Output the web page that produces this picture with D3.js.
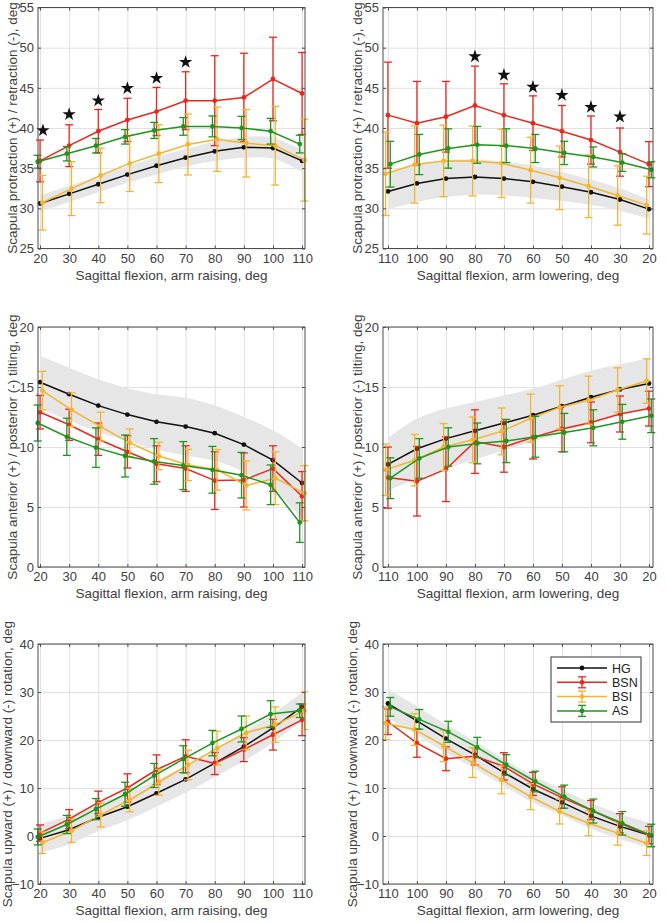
<!DOCTYPE html>
<html>
<head>
<meta charset="utf-8">
<script src="https://cdn.jsdelivr.net/npm/d3@7"></script>
<style>
  body { margin: 0; background: #fff; }
  svg { display: block; font-family: "Liberation Sans", Arial, sans-serif; }
</style>
</head>
<body>
<svg id="chart" width="666" height="922"></svg>
<script>
// x categories (deg of sagittal flexion)
const xRaise = [20, 30, 40, 50, 60, 70, 80, 90, 100, 110];
const xLower = [110, 100, 90, 80, 70, 60, 50, 40, 30, 20];
const groups = ["HG", "BSN", "BSI", "AS"];

// Row 1: protraction / retraction
const hg1 = [30.6, 31.8, 33.0, 34.2, 35.3, 36.3, 37.1, 37.6, 37.5, 35.9];
const hgBand1 = [1.0, 1.0, 1.0, 1.0, 1.1, 1.1, 1.2, 1.3, 1.3, 1.35];
const bsn1 = [35.9, 37.8, 39.6, 41.0, 42.05, 43.4, 43.4, 43.8, 46.1, 44.3];
const bsnSd1 = [2.6, 2.6, 2.7, 2.7, 3.0, 3.6, 5.6, 5.5, 5.2, 5.1];
const bsi1 = [30.7, 32.45, 34.1, 35.6, 36.8, 37.95, 38.6, 38.1, 37.8, 36.0];
const bsiSd1 = [3.4, 3.35, 3.4, 3.5, 3.6, 3.8, 4.0, 4.2, 4.9, 5.1];
const as1 = [35.8, 36.8, 37.8, 38.9, 39.7, 40.2, 40.2, 40.0, 39.6, 38.0];
const asSd1 = [0.8, 0.9, 0.9, 0.9, 1.0, 1.1, 1.3, 1.45, 1.6, 1.1];
const starX1 = [21, 30, 40, 50, 60, 70];
const starY1 = [39.7, 41.7, 43.4, 44.95, 46.2, 48.2];

const hg2 = [32.1, 33.1, 33.7, 33.9, 33.7, 33.3, 32.7, 32.0, 31.1, 29.9];
const hgBand2 = [2.2, 2.3, 2.3, 2.2, 2.1, 2.0, 1.8, 1.6, 1.4, 1.2];
const bsn2 = [41.6, 40.6, 41.4, 42.8, 41.6, 40.6, 39.6, 38.5, 37.0, 35.5];
const bsnSd2 = [6.6, 5.2, 4.4, 4.9, 3.9, 3.4, 3.2, 3.0, 3.0, 2.8];
const bsi2 = [34.3, 35.45, 35.9, 35.9, 35.6, 34.75, 33.8, 32.75, 31.6, 30.4];
const bsiSd2 = [5.2, 4.8, 4.45, 4.35, 4.25, 4.1, 3.95, 3.9, 3.7, 3.6];
const as2 = [35.5, 36.7, 37.45, 37.9, 37.8, 37.45, 36.9, 36.4, 35.7, 34.8];
const asSd2 = [2.85, 2.5, 2.45, 2.3, 2.1, 1.75, 1.45, 1.25, 1.1, 1.0];
const starX2 = [80, 70, 60, 50, 40, 30];
const starY2 = [48.9, 46.6, 45.1, 44.1, 42.6, 41.4];

// Row 2: anterior / posterior tilting
const hg3 = [15.4, 14.4, 13.45, 12.7, 12.1, 11.7, 11.15, 10.2, 8.9, 7.0];
const hgBand3 = [2.2, 2.2, 2.2, 2.2, 2.3, 2.4, 2.3, 2.3, 2.5, 2.9];
const bsn3 = [12.9, 11.85, 10.65, 9.6, 8.6, 8.2, 7.2, 7.25, 8.2, 5.9];
const bsnSd3 = [1.4, 1.3, 1.35, 1.35, 1.5, 1.9, 2.4, 2.25, 1.9, 2.05];
const bsi3 = [14.7, 13.1, 11.7, 10.35, 9.25, 8.5, 8.1, 6.8, 7.4, 6.15];
const bsiSd3 = [1.6, 1.4, 1.2, 1.15, 1.15, 1.3, 1.7, 2.05, 2.2, 2.3];
const as3 = [12.0, 10.85, 9.95, 9.25, 8.8, 8.45, 8.1, 7.65, 6.85, 3.7];
const asSd3 = [1.5, 1.55, 1.65, 1.75, 1.9, 2.0, 1.95, 1.9, 1.65, 1.65];

const hg4 = [8.55, 9.85, 10.7, 11.35, 12.0, 12.65, 13.4, 14.15, 14.8, 15.3];
const hgBand4 = [2.2, 2.5, 2.5, 2.4, 2.3, 2.2, 2.2, 2.2, 2.1, 2.1];
const bsn4 = [7.45, 7.15, 8.15, 10.45, 10.0, 10.8, 11.5, 12.05, 12.75, 13.2];
const bsnSd4 = [2.55, 2.9, 2.7, 2.65, 2.1, 1.8, 1.9, 1.7, 1.5, 1.45];
const bsi4 = [8.1, 8.9, 10.0, 10.6, 11.3, 12.4, 13.3, 13.9, 14.75, 15.5];
const bsiSd4 = [2.15, 2.15, 1.95, 1.9, 1.95, 2.0, 1.8, 2.0, 1.85, 1.85];
const as4 = [7.4, 9.05, 10.0, 10.3, 10.5, 10.85, 11.2, 11.6, 12.1, 12.6];
const asSd4 = [1.7, 1.65, 1.6, 1.7, 1.8, 1.7, 1.6, 1.5, 1.45, 1.4];

// Row 3: upward / downward rotation
const hg5 = [-0.5, 1.3, 3.9, 6.1, 8.9, 11.8, 15.2, 18.6, 22.5, 26.9];
const hgBand5 = [3.0, 3.0, 2.9, 2.8, 2.8, 2.8, 2.9, 3.0, 3.0, 3.0];
const bsn5 = [0.6, 3.5, 7.0, 10.0, 13.8, 16.6, 15.1, 18.0, 21.1, 24.2];
const bsnSd5 = [1.7, 2.0, 2.35, 2.95, 3.1, 3.45, 2.3, 2.5, 3.2, 3.3];
const bsi5 = [-1.4, 1.1, 4.4, 7.5, 11.2, 14.8, 18.3, 21.5, 23.2, 26.1];
const bsiSd5 = [2.25, 2.45, 2.5, 2.45, 2.7, 3.1, 3.5, 3.5, 3.7, 3.9];
const as5 = [-0.2, 2.4, 5.6, 8.7, 12.6, 16.0, 19.35, 22.3, 25.4, 26.1];
const asSd5 = [1.65, 1.9, 2.2, 2.5, 2.5, 2.8, 2.65, 2.7, 2.8, 1.4];

const hg6 = [27.6, 24.0, 20.3, 16.9, 13.2, 9.8, 7.0, 4.2, 2.0, 0.2];
const hgBand6 = [3.0, 3.0, 3.0, 2.9, 2.8, 2.8, 2.7, 2.7, 2.6, 2.6];
const bsn6 = [23.8, 19.35, 16.1, 16.6, 14.5, 10.85, 8.0, 5.4, 2.65, 0.2];
const bsnSd6 = [2.65, 2.95, 2.5, 1.8, 2.85, 2.4, 2.25, 2.0, 2.0, 1.8];
const bsi6 = [23.5, 22.2, 18.8, 15.3, 11.7, 8.2, 5.1, 2.65, 0.6, -1.5];
const bsiSd6 = [3.4, 3.3, 3.3, 3.1, 2.9, 2.7, 2.6, 2.6, 2.5, 2.55];
const as6 = [26.9, 24.3, 21.7, 18.45, 14.8, 11.35, 8.2, 5.2, 2.65, 0.1];
const asSd6 = [1.95, 2.05, 2.2, 2.1, 2.15, 2.15, 2.4, 2.5, 2.45, 2.35];

// axis ticks and labels
const yTicks1 = [25, 30, 35, 40, 45, 50, 55];
const yTicks2 = [0, 5, 10, 15, 20];
const yTicks3 = [-10, 0, 10, 20, 30, 40];
const yLabels = [
  "Scapula protraction (+) / retraction (-), deg",
  "Scapula anterior (+) / posterior (-) tilting, deg",
  "Scapula upward (+) / downward (-) rotation, deg"
];
const xLabels = ["Sagittal flexion, arm raising, deg", "Sagittal flexion, arm lowering, deg"];

const colors = { HG: "#111111", BSN: "#e8281e", BSI: "#f2b530", AS: "#1e961e" };
const shift = { HG: 0, BSN: 0, BSI: 0.8, AS: -0.8 }; // small horizontal dodge

const svg = d3.select("#chart");

// plot boxes
const cols = [
  { x0: 38, x1: 305, domain: [19.3, 111], xs: xRaise },
  { x0: 383, x1: 653, domain: [111.7, 18.6], xs: xLower }
];
const rows = [
  { y0: 7.5, y1: 248.5, domain: [25, 55], ticks: yTicks1, labelGap: 21 },
  { y0: 327, y1: 567, domain: [0, 20], ticks: yTicks2, labelGap: 21 },
  { y0: 644, y1: 884, domain: [-10, 40], ticks: yTicks3, labelGap: 26 }
];

const panels = [
  { c: 0, r: 0, hg: hg1, band: hgBand1, BSN: [bsn1, bsnSd1], BSI: [bsi1, bsiSd1], AS: [as1, asSd1], stars: [starX1, starY1] },
  { c: 1, r: 0, hg: hg2, band: hgBand2, BSN: [bsn2, bsnSd2], BSI: [bsi2, bsiSd2], AS: [as2, asSd2], stars: [starX2, starY2] },
  { c: 0, r: 1, hg: hg3, band: hgBand3, BSN: [bsn3, bsnSd3], BSI: [bsi3, bsiSd3], AS: [as3, asSd3] },
  { c: 1, r: 1, hg: hg4, band: hgBand4, BSN: [bsn4, bsnSd4], BSI: [bsi4, bsiSd4], AS: [as4, asSd4] },
  { c: 0, r: 2, hg: hg5, band: hgBand5, BSN: [bsn5, bsnSd5], BSI: [bsi5, bsiSd5], AS: [as5, asSd5] },
  { c: 1, r: 2, hg: hg6, band: hgBand6, BSN: [bsn6, bsnSd6], BSI: [bsi6, bsiSd6], AS: [as6, asSd6], legend: true }
];

const capW = 4;

panels.forEach(p => {
  const col = cols[p.c], row = rows[p.r];
  const x = d3.scaleLinear().domain(col.domain).range([col.x0, col.x1]);
  const y = d3.scaleLinear().domain(row.domain).range([row.y1, row.y0]);
  const g = svg.append("g");
  const w = col.x1 - col.x0, h = row.y1 - row.y0;

  // grid
  g.append("g")
    .attr("transform", `translate(0,${row.y1})`)
    .call(d3.axisBottom(x).tickValues(xRaise).tickSize(-h).tickFormat(""))
    .call(a => a.select(".domain").remove())
    .selectAll("line").attr("stroke", "#e1e1e1");
  g.append("g")
    .attr("transform", `translate(${col.x0},0)`)
    .call(d3.axisLeft(y).tickValues(row.ticks).tickSize(-w).tickFormat(""))
    .call(a => a.select(".domain").remove())
    .selectAll("line").attr("stroke", "#e1e1e1");

  // HG band
  const rowsHg = col.xs.map((v, i) => ({ x: v, m: p.hg[i], s: p.band[i] }));
  g.append("path")
    .datum(rowsHg)
    .attr("d", d3.area()
      .x(d => x(d.x))
      .y0(d => y(d.m - d.s))
      .y1(d => y(d.m + d.s))
      .curve(d3.curveCatmullRom))
    .attr("fill", "#e6e6e6");

  // series
  groups.forEach(name => {
    const vals = name === "HG" ? p.hg : p[name][0];
    const sds = name === "HG" ? null : p[name][1];
    const pts = col.xs.map((v, i) => ({ x: x(v + shift[name]), v: vals[i], s: sds ? sds[i] : 0 }));
    const color = colors[name];

    if (sds) {
      const eb = g.append("g").attr("stroke", color).attr("stroke-width", 1.3).attr("fill", "none");
      pts.forEach(d => {
        const top = y(d.v + d.s), bot = y(d.v - d.s);
        eb.append("line").attr("x1", d.x).attr("x2", d.x).attr("y1", top).attr("y2", bot);
        eb.append("line").attr("x1", d.x - capW).attr("x2", d.x + capW).attr("y1", top).attr("y2", top);
        eb.append("line").attr("x1", d.x - capW).attr("x2", d.x + capW).attr("y1", bot).attr("y2", bot);
      });
    }

    g.append("path")
      .datum(pts)
      .attr("d", d3.line().x(d => d.x).y(d => y(d.v)))
      .attr("fill", "none")
      .attr("stroke", color)
      .attr("stroke-width", 1.5);

    g.selectAll(null)
      .data(pts)
      .enter()
      .append("circle")
      .attr("cx", d => d.x)
      .attr("cy", d => y(d.v))
      .attr("r", 2.4)
      .attr("fill", color);
  });

  // significance stars
  if (p.stars) {
    g.selectAll(null)
      .data(p.stars[0].map((v, i) => [v, p.stars[1][i]]))
      .enter()
      .append("path")
      .attr("d", d3.symbol().type(d3.symbolStar).size(55))
      .attr("transform", d => `translate(${x(d[0])},${y(d[1])})`)
      .attr("fill", "#111");
  }

  // box + inward ticks on all sides
  g.append("rect")
    .attr("x", col.x0).attr("y", row.y0)
    .attr("width", w).attr("height", h)
    .attr("fill", "none").attr("stroke", "#4d4d4d").attr("stroke-width", 1);

  const tickStyle = a => {
    a.select(".domain").remove();
    a.selectAll("line").attr("stroke", "#4d4d4d");
    a.selectAll("text").attr("fill", "#404040").style("font-size", "13px").style("font-family", "inherit");
  };
  g.append("g")
    .attr("transform", `translate(0,${row.y1})`)
    .call(d3.axisBottom(x).tickValues(xRaise).tickSize(-3).tickPadding(5))
    .call(tickStyle);
  g.append("g")
    .attr("transform", `translate(0,${row.y0})`)
    .call(d3.axisTop(x).tickValues(xRaise).tickSize(-3).tickFormat(""))
    .call(tickStyle);
  g.append("g")
    .attr("transform", `translate(${col.x0},0)`)
    .call(d3.axisLeft(y).tickValues(row.ticks).tickSize(-3).tickPadding(4))
    .call(tickStyle);
  g.append("g")
    .attr("transform", `translate(${col.x1},0)`)
    .call(d3.axisRight(y).tickValues(row.ticks).tickSize(-3).tickFormat(""))
    .call(tickStyle);

  // axis labels
  g.append("text")
    .attr("x", (col.x0 + col.x1) / 2)
    .attr("y", row.y1 + 31)
    .attr("text-anchor", "middle")
    .attr("fill", "#404040")
    .style("font-size", "13.5px")
    .text(xLabels[p.c]);
  g.append("text")
    .attr("transform", `translate(${col.x0 - row.labelGap},${(row.y0 + row.y1) / 2}) rotate(-90)`)
    .attr("text-anchor", "middle")
    .attr("fill", "#404040")
    .style("font-size", "13.5px")
    .text(yLabels[p.r]);

  // legend
  if (p.legend) {
    const lx = col.x0 + 168, ly = row.y0 + 13;
    const lg = g.append("g").attr("transform", `translate(${lx},${ly})`);
    lg.append("rect")
      .attr("width", 90).attr("height", 65)
      .attr("fill", "#fff").attr("stroke", "#333").attr("stroke-width", 1);
    groups.forEach((name, i) => {
      const yy = 11 + i * 14.3;
      const color = colors[name];
      lg.append("line").attr("x1", 6).attr("x2", 56).attr("y1", yy).attr("y2", yy)
        .attr("stroke", color).attr("stroke-width", 1.5);
      if (name !== "HG") {
        lg.append("line").attr("x1", 31).attr("x2", 31).attr("y1", yy - 5.5).attr("y2", yy + 5.5)
          .attr("stroke", color).attr("stroke-width", 1.3);
        [-5.5, 5.5].forEach(o => lg.append("line")
          .attr("x1", 27).attr("x2", 35).attr("y1", yy + o).attr("y2", yy + o)
          .attr("stroke", color).attr("stroke-width", 1.3));
      }
      lg.append("circle").attr("cx", 31).attr("cy", yy).attr("r", 2.4).attr("fill", color);
      lg.append("text").attr("x", 61).attr("y", yy + 4.5)
        .attr("fill", "#222").style("font-size", "12.5px").text(name);
    });
  }
});
</script>
</body>
</html>
